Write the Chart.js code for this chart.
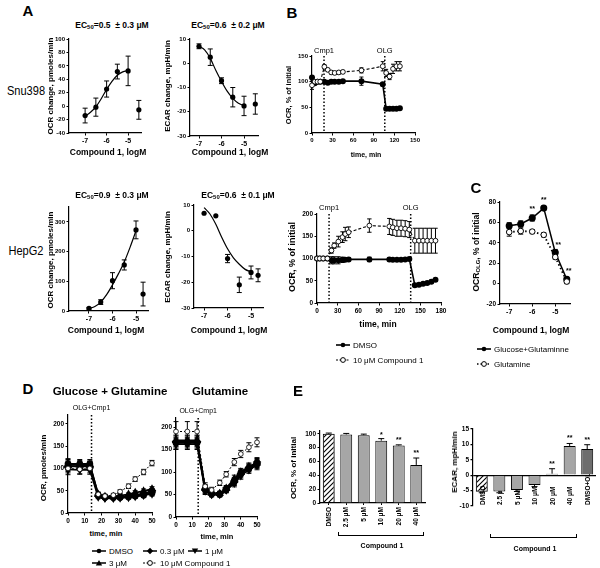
<!DOCTYPE html>
<html><head><meta charset="utf-8">
<script src="https://cdn.jsdelivr.net/npm/chart.js@4.4.1/dist/chart.umd.min.js"></script>
<style>
body{margin:0;background:#fff;}
#root{position:relative;width:600px;height:568px;overflow:hidden;font-family:'Liberation Sans',Arial,sans-serif;color:#000;background:#fff;}
.t{position:absolute;white-space:nowrap;transform:translate(-50%,-50%);line-height:1;}
.t.r{transform:translate(-50%,-50%) rotate(-90deg);}
.box{position:absolute;}
sub{font-size:70%;vertical-align:-0.25em;line-height:0;}
</style></head><body><div id="root"></div>
<script>
// ================= DATA =================
// Panel A (dose response, log M)
const doseLog = [-7, -6.5, -6, -5.5, -5];
const fitLog = [-7, -6.75, -6.5, -6.25, -6, -5.75, -5.5, -5.25, -5];
const tickLog = [-7, -6, -5];
// Snu398 OCR
const snuOcr = [-14, -1.5, 25.5, 51.5, 52.5];
const snuOcrErr = [11, 13.5, 12, 11, 22];
const snuOcrCtrlX = [-4.5], snuOcrCtrl = [-5.5], snuOcrCtrlErr = [14];
const snuOcrFit = [-15, -9, -1, 11, 25, 37, 46, 51, 53];
// Snu398 ECAR
const snuEcar = [7, 2.5, -7.2, -14, -17.6];
const snuEcarErr = [1, 3.4, 1.2, 4, 4];
const snuEcarCtrlX = [-4.5], snuEcarCtrl = [-16.8], snuEcarCtrlErr = [4.2];
const snuEcarFit = [7, 5.5, 2, -3, -7.5, -11.5, -14.5, -16.5, -17.5];
// HepG2 OCR
const hepOcr = [9, 30, 102, 155, 273];
const hepOcrErr = [3, 8, 27, 17, 30];
const hepOcrCtrlX = [-4.7], hepOcrCtrl = [57], hepOcrCtrlErr = [40];
const hepOcrFit = [8, 15, 30, 55, 88, 125, 165, 215, 270];
// HepG2 ECAR
const hepEcar = [6.8, 5.8, -10.8, -21, -16.2];
const hepEcarErr = [0, 0, 1.6, 3, 2.5];
const hepEcarCtrlX = [-4.7], hepEcarCtrl = [-17.3], hepEcarCtrlErr = [2.5];
const hepEcarFit = [9, 6.5, 2.5, -2.5, -7, -10.5, -13, -15, -16];

// Panel B top (Snu398 time course)
const bTopTime = [0, 4, 8, 12, 18, 23, 28, 33, 39, 45, 72, 103, 108, 113, 118, 123, 128];
const bTopDMSO = [108, 97, 100, 100, 100, 98, 100, 100, 100, 101, 101, 95, 47, 47, 47, 47, 48];
const bTopDMSOErr = [4, 2, 2, 2, 2, 2, 2, 2, 2, 2, 8, 3, 2, 2, 2, 2, 2];
const bTopCmp = [93, 100, 100, 100, 129, 123, 118, 117, 118, 119, 122, 130, 117, 110, 125, 130, 130];
const bTopCmpErr = [8, 4, 3, 3, 4, 3, 3, 3, 3, 3, 5, 9, 7, 6, 9, 9, 9];
// Panel B bottom (HepG2 time course)
const bBotTime = [0, 4, 9, 15, 21, 25, 31, 37, 41, 46, 76, 105, 110, 116, 122, 128, 134, 142, 148, 154, 160, 166, 172];
const bBotDMSO = [100, 100, 100, 100, 96, 96, 96, 97, 97, 98, 98, 98, 97, 97, 97, 98, 99, 40, 41, 43, 45, 48, 52];
const bBotDMSOErr = [2, 2, 2, 2, 8, 8, 8, 6, 3, 3, 5, 3, 2, 2, 2, 2, 2, 3, 3, 3, 3, 3, 3];
const bBotCmp = [100, 100, 100, 100, 118, 129, 138, 148, 155, 159, 174, 172, 170, 168, 168, 167, 165, 140, 140, 140, 140, 140, 140];
const bBotCmpErr = [2, 2, 2, 2, 6, 6, 12, 12, 15, 12, 15, 18, 18, 18, 18, 18, 18, 28, 28, 28, 28, 28, 28];
const tickTime150 = [0, 30, 60, 90, 120, 150];
const tickTime180 = [0, 30, 60, 90, 120, 150, 180];

// Panel C
const cLog = [-7, -6.5, -6, -5.5, -5, -4.5];
const cGluGln = [56.7, 58.5, 64.3, 74, 30.5, 4.3];
const cGluGlnErr = [3, 3, 3, 2, 3, 2];
const cGln = [50.5, 51.5, 51, 47.8, 26, 2];
const cGlnErr = [4, 3, 2, 2, 2, 2];

// Panel D (time, min)
const dTime = [0, 7, 13, 18, 22, 27, 31, 36, 40, 45, 50];
const dLeftDMSO = [110, 110, 110, 40, 36, 35, 35, 36, 38, 40, 45];
const dLeft03 = [105, 105, 105, 38, 34, 34, 35, 37, 40, 43, 50];
const dLeft1 = [98, 97, 97, 36, 33, 33, 34, 35, 37, 40, 43];
const dLeft3 = [108, 108, 107, 42, 37, 37, 39, 42, 46, 49, 54];
const dLeft10 = [100, 98, 100, 42, 38, 40, 48, 60, 76, 92, 112];
const dLeftErr = [12, 10, 10, 4, 3, 3, 3, 3, 4, 5, 5];
const dLeft10Err = [10, 10, 10, 5, 4, 4, 4, 5, 5, 6, 6];
const dRightDMSO = [165, 165, 165, 62, 52, 50, 62, 80, 98, 108, 118];
const dRight03 = [168, 168, 168, 60, 50, 52, 60, 78, 95, 110, 122];
const dRight1 = [162, 162, 162, 58, 50, 50, 60, 75, 92, 105, 115];
const dRight3 = [170, 170, 170, 64, 53, 52, 64, 85, 100, 112, 120];
const dRight10 = [190, 190, 190, 68, 60, 76, 95, 122, 140, 155, 166];
const dRightErr = [12, 12, 12, 8, 5, 5, 6, 8, 8, 8, 10];
const dRight10Err = [22, 22, 22, 8, 6, 6, 6, 8, 8, 10, 10];
const tickTime50 = [0, 10, 20, 30, 40, 50];

// Panel E
const eLeftCats = ['DMSO', '2.5 μM', '5 μM', '10 μM', '20 μM', '40 μM'];
const eLeftOcr = [100, 99, 98, 90, 83, 55];
const eLeftOcrErr = [1, 1.5, 1.5, 3, 1, 10];
const eRightCats = ['DMSO', '2.5 μM', '5 μM', '10 μM', '20 μM', '40 μM', 'DMSO+OLG'];
const eRightEcar = [-5.4, -5.3, -4.8, -3.2, 0.5, 9.5, 8.5];
const eRightEcarErr = [0.3, 0.4, 0.5, 0.5, 1.6, 0.8, 1.4];

// ================= HELPERS =================
const FONT = "'Liberation Sans', Arial, sans-serif";
Chart.defaults.font.family = FONT;
Chart.defaults.color = '#000';
const root = document.getElementById('root');
const pts = (xs, ys) => xs.map((x, i) => ({x: x, y: ys[i]}));

function txt(x, y, html, css, rot, sx) {
  const d = document.createElement('div');
  d.className = 't' + (rot ? ' r' : '');
  d.innerHTML = html;
  let tr = '';
  if (sx) tr = 'transform:translate(-50%,-50%) ' + (rot ? 'rotate(-90deg) ' : '') + 'scaleX(' + sx + ');';
  d.style.cssText = 'left:' + x + 'px;top:' + y + 'px;' + (css || '') + tr;
  root.appendChild(d); return d;
}
function line(x1, y1, x2, y2) {
  const d = document.createElement('div');
  d.style.cssText = 'position:absolute;background:#000;left:' + Math.min(x1, x2) + 'px;top:' + Math.min(y1, y2) + 'px;width:' + Math.max(1, Math.abs(x2 - x1)) + 'px;height:' + Math.max(1, Math.abs(y2 - y1)) + 'px;';
  root.appendChild(d);
}
function leg(x, y, label, kind, size) {
  const d = document.createElement('div');
  d.style.cssText = 'position:absolute;left:' + x + 'px;top:' + (y - 6) + 'px;height:12px;display:flex;align-items:center;white-space:nowrap;font-size:' + size + 'px;';
  let m = '';
  const dash = kind.dash ? 'stroke-dasharray="' + kind.dash + '"' : '';
  if (kind.m === 'dot') m = '<circle cx="7" cy="5" r="2.3" fill="#000"/>';
  if (kind.m === 'open') m = '<circle cx="7" cy="5" r="2.4" fill="#fff" stroke="#000" stroke-width="1"/>';
  if (kind.m === 'diamond') m = '<polygon points="7,1.8 10.2,5 7,8.2 3.8,5" fill="#000"/>';
  if (kind.m === 'tridown') m = '<polygon points="3.8,2.5 10.2,2.5 7,8" fill="#000"/>';
  if (kind.m === 'triup') m = '<polygon points="3.8,7.5 10.2,7.5 7,2" fill="#000"/>';
  d.innerHTML = '<svg width="14" height="10" style="margin-right:3px;overflow:visible"><line x1="0" y1="5" x2="14" y2="5" stroke="#000" stroke-width="' + (kind.lw || 1.5) + '" ' + dash + '/>' + m + '</svg>' + label;
  root.appendChild(d);
}
function hatch() {
  const c = document.createElement('canvas'); c.width = 5; c.height = 5;
  const g = c.getContext('2d');
  g.strokeStyle = '#000'; g.lineWidth = 1.1;
  g.beginPath(); g.moveTo(0, 5); g.lineTo(5, 0); g.moveTo(-1, 1); g.lineTo(1, -1); g.moveTo(4, 6); g.lineTo(6, 4); g.stroke();
  return g.createPattern(c, 'repeat');
}

const errPlugin = {
  id: 'errbars',
  beforeDatasetsDraw(chart) {
    const ctx = chart.ctx;
    chart.data.datasets.forEach((ds, i) => {
      if (!ds.errs) return;
      const meta = chart.getDatasetMeta(i);
      const ys = chart.scales[meta.yAxisID];
      ctx.save(); ctx.strokeStyle = '#000'; ctx.lineWidth = ds.errLW || 1; ctx.setLineDash([]);
      meta.data.forEach((el, j) => {
        const e = ds.errs[j]; if (!e) return;
        const raw = ds.data[j]; const v = (raw && typeof raw === 'object') ? raw.y : raw;
        const x = el.x; const cap = ds.errCap || 2.5;
        const a = ds.errOneSide ? v : v - e;
        const b = ds.errOneSide ? (v >= 0 ? v + e : v - e) : v + e;
        const y1 = ys.getPixelForValue(a), y2 = ys.getPixelForValue(b);
        ctx.beginPath(); ctx.moveTo(x, y1); ctx.lineTo(x, y2);
        if (!ds.errOneSide) { ctx.moveTo(x - cap, y1); ctx.lineTo(x + cap, y1); }
        ctx.moveTo(x - cap, y2); ctx.lineTo(x + cap, y2); ctx.stroke();
      });
      ctx.restore();
    });
  }
};
const vlinePlugin = {
  id: 'vlines',
  beforeDatasetsDraw(chart, args, opts) {
    if (!opts || !opts.lines) return;
    const ctx = chart.ctx, xs = chart.scales.x, a = chart.chartArea;
    opts.lines.forEach(l => {
      const x = xs.getPixelForValue(l.x);
      ctx.save(); ctx.strokeStyle = '#000'; ctx.lineWidth = 1.5; ctx.setLineDash([1.5, 2]);
      ctx.beginPath(); ctx.moveTo(x, a.top); ctx.lineTo(x, a.bottom); ctx.stroke(); ctx.restore();
      ctx.save(); ctx.font = (opts.size || 7.5) + 'px ' + FONT; ctx.textAlign = 'center'; ctx.textBaseline = 'bottom'; ctx.fillStyle = '#000';
      ctx.fillText(l.label, x, a.top - (opts.gap || 2)); ctx.restore();
    });
  }
};
const notePlugin = {
  id: 'notes',
  afterDatasetsDraw(chart, args, opts) {
    if (!opts || !opts.items) return;
    const ctx = chart.ctx, xs = chart.scales.x, ys = chart.scales.y;
    ctx.save(); ctx.font = 'bold ' + (opts.size || 7) + 'px ' + FONT; ctx.textAlign = 'center'; ctx.textBaseline = 'middle'; ctx.fillStyle = '#000';
    opts.items.forEach(n => ctx.fillText(n.text, xs.getPixelForValue(n.x) + (n.dx || 0), ys.getPixelForValue(n.y) + (n.dy || 0)));
    ctx.restore();
  }
};
const catLabPlugin = {
  id: 'catlab',
  beforeDatasetsDraw(chart, args, opts) {
    if (!opts || !opts.labels) return;
    const ctx = chart.ctx, xs = chart.scales.x, ys = chart.scales.y;
    ctx.save(); ctx.font = 'bold ' + (opts.size || 6.5) + 'px ' + FONT; ctx.fillStyle = '#000'; ctx.textAlign = 'left'; ctx.textBaseline = 'middle';
    opts.labels.forEach((l, i) => {
      ctx.save(); ctx.translate(xs.getPixelForValue(i) + 1, ys.getPixelForValue(opts.from) - 1); ctx.rotate(-Math.PI / 2);
      ctx.fillText(l, 0, 0); ctx.restore();
    });
    ctx.restore();
  }
};

function ax(min, max, ticks, size, extra) {
  return Object.assign({
    type: 'linear', min: min, max: max,
    afterBuildTicks: s => { s.ticks = ticks.map(v => ({value: v})); },
    grid: {display: true, drawOnChartArea: false, drawTicks: true, tickLength: 2.5, color: '#000', tickColor: '#000', lineWidth: 1},
    border: {display: true, color: '#000', width: 1.2},
    ticks: {color: '#000', font: {family: FONT, size: size, weight: 'bold'}, padding: 1.5, autoSkip: false, maxRotation: 0, minRotation: 0}
  }, extra || {});
}

function mk(plot, m, type, datasets, scales, plugins, labels) {
  const w = plot.r - plot.l + m.l + m.r, h = plot.b - plot.t + m.t + m.b;
  const div = document.createElement('div'); div.className = 'box';
  div.style.cssText = 'left:' + (plot.l - m.l) + 'px;top:' + (plot.t - m.t) + 'px;width:' + w + 'px;height:' + h + 'px;';
  const cv = document.createElement('canvas'); cv.width = w; cv.height = h;
  cv.style.width = w + 'px'; cv.style.height = h + 'px';
  div.appendChild(cv); root.appendChild(div);
  scales.x.afterFit = s => { s.height = m.b; };
  scales.y.afterFit = s => { s.width = m.l; };
  datasets.forEach(d => { if (d.clip === undefined) d.clip = false; });
  const data = {datasets: datasets}; if (labels) data.labels = labels;
  return new Chart(cv, {
    type: type, data: data,
    options: {
      responsive: false, animation: false, devicePixelRatio: 1,
      layout: {padding: {top: m.t, right: m.r, left: 0, bottom: 0}},
      plugins: Object.assign({legend: {display: false}, tooltip: {enabled: false}}, plugins || {}),
      scales: scales
    },
    plugins: [errPlugin, vlinePlugin, notePlugin, catLabPlugin]
  });
}
const dot = (data, errs, extra) => Object.assign({data: data, showLine: false, pointRadius: 2.6, pointBackgroundColor: '#000', pointBorderColor: '#000', pointBorderWidth: 0, errs: errs, errCap: 2.5}, extra || {});
const fit = (data) => ({data: data, showLine: true, pointRadius: 0, borderColor: '#000', borderWidth: 1.2, cubicInterpolationMode: 'monotone'});

// ================= PANEL A =================
const M = {l: 20, t: 8, r: 12, b: 14};
const AT = 6;
mk({l: 69, t: 39, r: 141, b: 133}, M, 'scatter', [
  fit(pts(fitLog, snuOcrFit)),
  dot(pts(doseLog, snuOcr), snuOcrErr),
  dot(pts(snuOcrCtrlX, snuOcrCtrl), snuOcrCtrlErr)
], {x: ax(-7.75, -4.4, tickLog, 7), y: ax(-40, 100, [-40, -20, 0, 20, 40, 60, 80, 100], AT)});

mk({l: 190, t: 39, r: 258, b: 136}, M, 'scatter', [
  fit(pts(fitLog, snuEcarFit)),
  dot(pts(doseLog, snuEcar), snuEcarErr),
  dot(pts(snuEcarCtrlX, snuEcarCtrl), snuEcarCtrlErr)
], {x: ax(-7.4, -4.38, tickLog, 7), y: ax(-30, 10, [-30, -20, -10, 0, 10], AT)});

mk({l: 69, t: 207, r: 148, b: 311}, M, 'scatter', [
  fit(pts(fitLog, hepOcrFit)),
  dot(pts(doseLog, hepOcr), hepOcrErr),
  dot(pts(hepOcrCtrlX, hepOcrCtrl), hepOcrCtrlErr)
], {x: ax(-7.85, -4.49, tickLog, 7), y: ax(0, 350, [0, 100, 200, 300], AT)});

mk({l: 194, t: 205, r: 263, b: 308}, M, 'scatter', [
  fit(pts(fitLog, hepEcarFit)),
  dot(pts(doseLog, hepEcar), hepEcarErr),
  dot(pts(hepEcarCtrlX, hepEcarCtrl), hepEcarCtrlErr)
], {x: ax(-7.43, -4.49, tickLog, 7), y: ax(-30, 10, [-30, -20, -10, 0, 10], AT)});

// ================= PANEL B =================
const MB = {l: 22, t: 14, r: 12, b: 14};
mk({l: 312, t: 56, r: 415, b: 133}, MB, 'scatter', [
  {data: pts(bTopTime, bTopCmp), showLine: true, borderColor: '#000', borderWidth: 1.1, borderDash: [3, 2], pointRadius: 2.4, pointBackgroundColor: '#fff', pointBorderColor: '#000', pointBorderWidth: 0.9, errs: bTopCmpErr, errCap: 2},
  {data: pts(bTopTime, bTopDMSO), showLine: true, borderColor: '#000', borderWidth: 1.6, pointRadius: 2.2, pointBackgroundColor: '#000', pointBorderColor: '#000', errs: bTopDMSOErr, errCap: 2}
], {x: ax(0, 150, tickTime150, 6), y: ax(0, 150, [0, 50, 100, 150], 6)},
{vlines: {lines: [{x: 17.5, label: 'Cmp1'}, {x: 106, label: 'OLG'}], size: 7.5, gap: 1}});

mk({l: 317, t: 214, r: 441, b: 303}, MB, 'scatter', [
  {data: pts(bBotTime, bBotCmp), showLine: true, borderColor: '#000', borderWidth: 1.1, borderDash: [3, 2], pointRadius: 2.4, pointBackgroundColor: '#fff', pointBorderColor: '#000', pointBorderWidth: 0.9, errs: bBotCmpErr, errCap: 2.2},
  {data: pts(bBotTime, bBotDMSO), showLine: true, borderColor: '#000', borderWidth: 1.6, pointRadius: 2.2, pointBackgroundColor: '#000', pointBorderColor: '#000', errs: bBotDMSOErr, errCap: 2.2}
], {x: ax(0, 180, tickTime180, 6.5), y: ax(0, 200, [0, 50, 100, 150, 200], 6.5)},
{vlines: {lines: [{x: 17.5, label: 'Cmp1'}, {x: 136, label: 'OLG'}], size: 7.5, gap: 2}});

// ================= PANEL C =================
mk({l: 500, t: 202, r: 570, b: 304}, M, 'scatter', [
  {data: pts(cLog, cGln), showLine: true, borderColor: '#000', borderWidth: 1.8, borderDash: [1.5, 2.5], pointRadius: 2.8, pointBackgroundColor: '#fff', pointBorderColor: '#000', pointBorderWidth: 1, errs: cGlnErr, errCap: 2.5},
  {data: pts(cLog, cGluGln), showLine: true, borderColor: '#000', borderWidth: 1.5, pointRadius: 2.8, pointBackgroundColor: '#000', pointBorderColor: '#000', errs: cGluGlnErr, errCap: 2.5}
], {x: ax(-7.4, -4.36, tickLog, 7), y: ax(-20, 80, [-20, 0, 20, 40, 60, 80], 6.5)},
{notes: {size: 7, items: [{x: -6, y: 67, text: '**', dy: -6}, {x: -5.5, y: 76, text: '**', dy: -6}, {x: -5, y: 30, text: '**', dx: 3, dy: -8}, {x: -4.5, y: 4, text: '**', dx: 2, dy: -8}]}});

// ================= PANEL D =================
const MD = {l: 22, t: 14, r: 10, b: 14};
function dSets(a, b, c, d, e, err, err10) {
  const base = {showLine: true, borderColor: '#000', borderWidth: 1.8, pointRadius: 2.5, pointBackgroundColor: '#000', pointBorderColor: '#000', errs: err, errCap: 2.5};
  return [
    Object.assign({}, base, {data: pts(dTime, e), borderWidth: 1, borderDash: [2, 2], pointBackgroundColor: '#fff', pointBorderWidth: 0.8, pointRadius: 2.4, errs: err10}),
    Object.assign({}, base, {data: pts(dTime, a), pointStyle: 'circle'}),
    Object.assign({}, base, {data: pts(dTime, b), pointStyle: 'rectRot', pointRadius: 3}),
    Object.assign({}, base, {data: pts(dTime, c), pointStyle: 'triangle', rotation: 180, pointRadius: 3}),
    Object.assign({}, base, {data: pts(dTime, d), pointStyle: 'triangle', pointRadius: 3})
  ];
}
mk({l: 68, t: 415, r: 152, b: 513}, MD, 'scatter', dSets(dLeftDMSO, dLeft03, dLeft1, dLeft3, dLeft10, dLeftErr, dLeft10Err),
  {x: ax(0, 50, tickTime50, 6.5), y: ax(0, 220, [0, 50, 100, 150, 200], 6.5)},
  {vlines: {lines: [{x: 14, label: 'OLG+Cmp1'}], size: 7, gap: 3}});
mk({l: 176, t: 418, r: 257, b: 517}, MD, 'scatter', dSets(dRightDMSO, dRight03, dRight1, dRight3, dRight10, dRightErr, dRight10Err),
  {x: ax(0, 50, tickTime50, 6.5), y: ax(0, 220, [0, 50, 100, 150, 200], 6.5)},
  {vlines: {lines: [{x: 13.7, label: 'OLG+Cmp1'}], size: 7, gap: 3}});

// ================= PANEL E =================
const hp = hatch();
const catX = (labs, extra) => Object.assign({
  type: 'category', offset: true,
  grid: {display: true, drawOnChartArea: false, drawTicks: true, tickLength: 2, color: '#000', tickColor: '#000', offset: false},
  border: {display: true, color: '#000', width: 1.2},
  ticks: {color: '#000', font: {family: FONT, size: 6.5, weight: 'bold'}, padding: 2, autoSkip: false, minRotation: 90, maxRotation: 90}
}, extra || {});
mk({l: 320, t: 431, r: 425, b: 503}, {l: 22, t: 8, r: 8, b: 32}, 'bar', [
  {data: eLeftOcr, backgroundColor: [hp, '#a6a6a6', '#a6a6a6', '#a6a6a6', '#a6a6a6', '#a6a6a6'], borderColor: '#000', borderWidth: 1, barPercentage: 0.68, categoryPercentage: 1, errs: eLeftOcrErr, errOneSide: true, errCap: 3}
], {x: catX(eLeftCats), y: ax(0, 104, [0, 20, 40, 60, 80, 100], 6.5)},
{notes: {size: 7, items: [{x: 3, y: 93, text: '*', dy: -4}, {x: 4, y: 84, text: '**', dy: -5}, {x: 5, y: 65, text: '**', dy: -5}]}}, eLeftCats);

mk({l: 473, t: 429, r: 596, b: 506}, {l: 20, t: 8, r: 4, b: 6}, 'bar', [
  {data: eRightEcar, backgroundColor: [hp, '#a6a6a6', '#a6a6a6', '#a6a6a6', '#a6a6a6', '#a6a6a6', '#6e6e6e'], borderColor: '#000', borderWidth: 1, barPercentage: 0.68, categoryPercentage: 1, errs: eRightEcarErr, errOneSide: true, errCap: 3}
], {x: catX(eRightCats, {grid: {display: false}, border: {display: false}, ticks: {display: false}}),
    y: ax(-10, 15, [-10, -5, 0, 5, 10, 15], 6.5, {grid: {display: true, drawOnChartArea: true, drawTicks: true, tickLength: 2.5, tickColor: '#000', lineWidth: 1.2, color: c => c.tick && c.tick.value === 0 ? '#000' : 'rgba(0,0,0,0)'}})},
{catlab: {labels: eRightCats, from: -10, size: 6.5}, notes: {size: 7, items: [{x: 4, y: 2.1, text: '**', dy: -5}, {x: 5, y: 10.3, text: '**', dy: -5}, {x: 6, y: 9.9, text: '**', dy: -5}]}}, eRightCats);

// ================= TEXT =================
const L = 'font-weight:bold;font-size:15px;';
txt(28, 10, 'A', L); txt(292, 12, 'B', L); txt(476, 187, 'C', L); txt(28, 388, 'D', L); txt(298, 390, 'E', L);
txt(26, 90, 'Snu398', 'font-size:13px;', false, 0.85);
txt(26, 250, 'HepG2', 'font-size:13px;', false, 0.85);
const EC = 'font-weight:bold;font-size:8.5px;';
txt(112, 25, 'EC<sub>50</sub>=0.5 &nbsp;± 0.3 μM', EC);
txt(228, 25, 'EC<sub>50</sub>=0.6 &nbsp;± 0.2 μM', EC);
txt(112, 195, 'EC<sub>50</sub>=0.9 &nbsp;± 0.3 μM', EC);
txt(238, 195, 'EC<sub>50</sub>=0.6 &nbsp;± 0.1 μM', EC);
const AX = 'font-weight:bold;font-size:8.5px;';
const AY = 'font-weight:bold;font-size:8px;';
txt(108, 152, 'Compound 1, logM', AX); txt(230, 152, 'Compound 1, logM', AX);
txt(106, 330, 'Compound 1, logM', AX); txt(229, 330, 'Compound 1, logM', AX);
txt(51, 86, 'OCR change, pmoles/min', AY, true); txt(168, 86, 'ECAR change, mpH/min', AY, true);
txt(51, 260, 'OCR change, pmoles/min', AY, true); txt(168, 257, 'ECAR change, mpH/min', AY, true);
// B
txt(289, 95, 'OCR, % of initial', 'font-weight:bold;font-size:7.5px;', true);
txt(366, 154, 'time, min', 'font-weight:bold;font-size:7px;');
txt(292, 257, 'OCR, % of initial', 'font-weight:bold;font-size:9px;', true);
txt(378, 324, 'time, min', 'font-weight:bold;font-size:8.5px;');
leg(336, 345, 'DMSO', {m: 'dot', lw: 1.6}, 8);
leg(336, 360, '10 μM Compound 1', {m: 'open', lw: 1, dash: '2,1.5'}, 8);
// C
txt(476, 252, 'OCR<sub>OLG</sub>, % of initial', 'font-weight:bold;font-size:8.5px;', true);
txt(531, 330, 'Compound 1, logM', 'font-weight:bold;font-size:8.5px;');
leg(477, 349, 'Glucose+Glutaminne', {m: 'dot', lw: 1.6}, 8);
leg(477, 364, 'Glutamine', {m: 'open', lw: 1.6, dash: '1.5,2'}, 8);
// D
txt(110, 392, 'Glucose + Glutamine', 'font-weight:bold;font-size:11.5px;');
txt(220, 392, 'Glutamine', 'font-weight:bold;font-size:11.5px;');
txt(44, 468, 'OCR, pmoles/min', 'font-weight:bold;font-size:8px;', true);
txt(106, 534, 'time, min', 'font-weight:bold;font-size:7.5px;');
txt(217, 537, 'time, min', 'font-weight:bold;font-size:7.5px;');
leg(92, 551, 'DMSO', {m: 'dot'}, 8);
leg(143, 551, '0.3 μM', {m: 'diamond'}, 8);
leg(188, 551, '1 μM', {m: 'tridown'}, 8);
leg(92, 563, '3 μM', {m: 'triup'}, 8);
leg(143, 563, '10 μM Compound 1', {m: 'open', lw: 1, dash: '2,1.5'}, 8);
// E
txt(294, 468, 'OCR, % of initial', 'font-weight:bold;font-size:8px;', true);
txt(455, 462, 'ECAR, mpH/min', 'font-weight:bold;font-size:8px;', true);
line(338, 535, 424, 536); line(338, 532, 339, 536); line(423, 532, 424, 536);
txt(382, 545, 'Compound 1', 'font-weight:bold;font-size:7px;');
line(490, 537, 577, 538); line(490, 534, 491, 538); line(576, 534, 577, 538);
txt(535, 548, 'Compound 1', 'font-weight:bold;font-size:7px;');
</script></body></html>
